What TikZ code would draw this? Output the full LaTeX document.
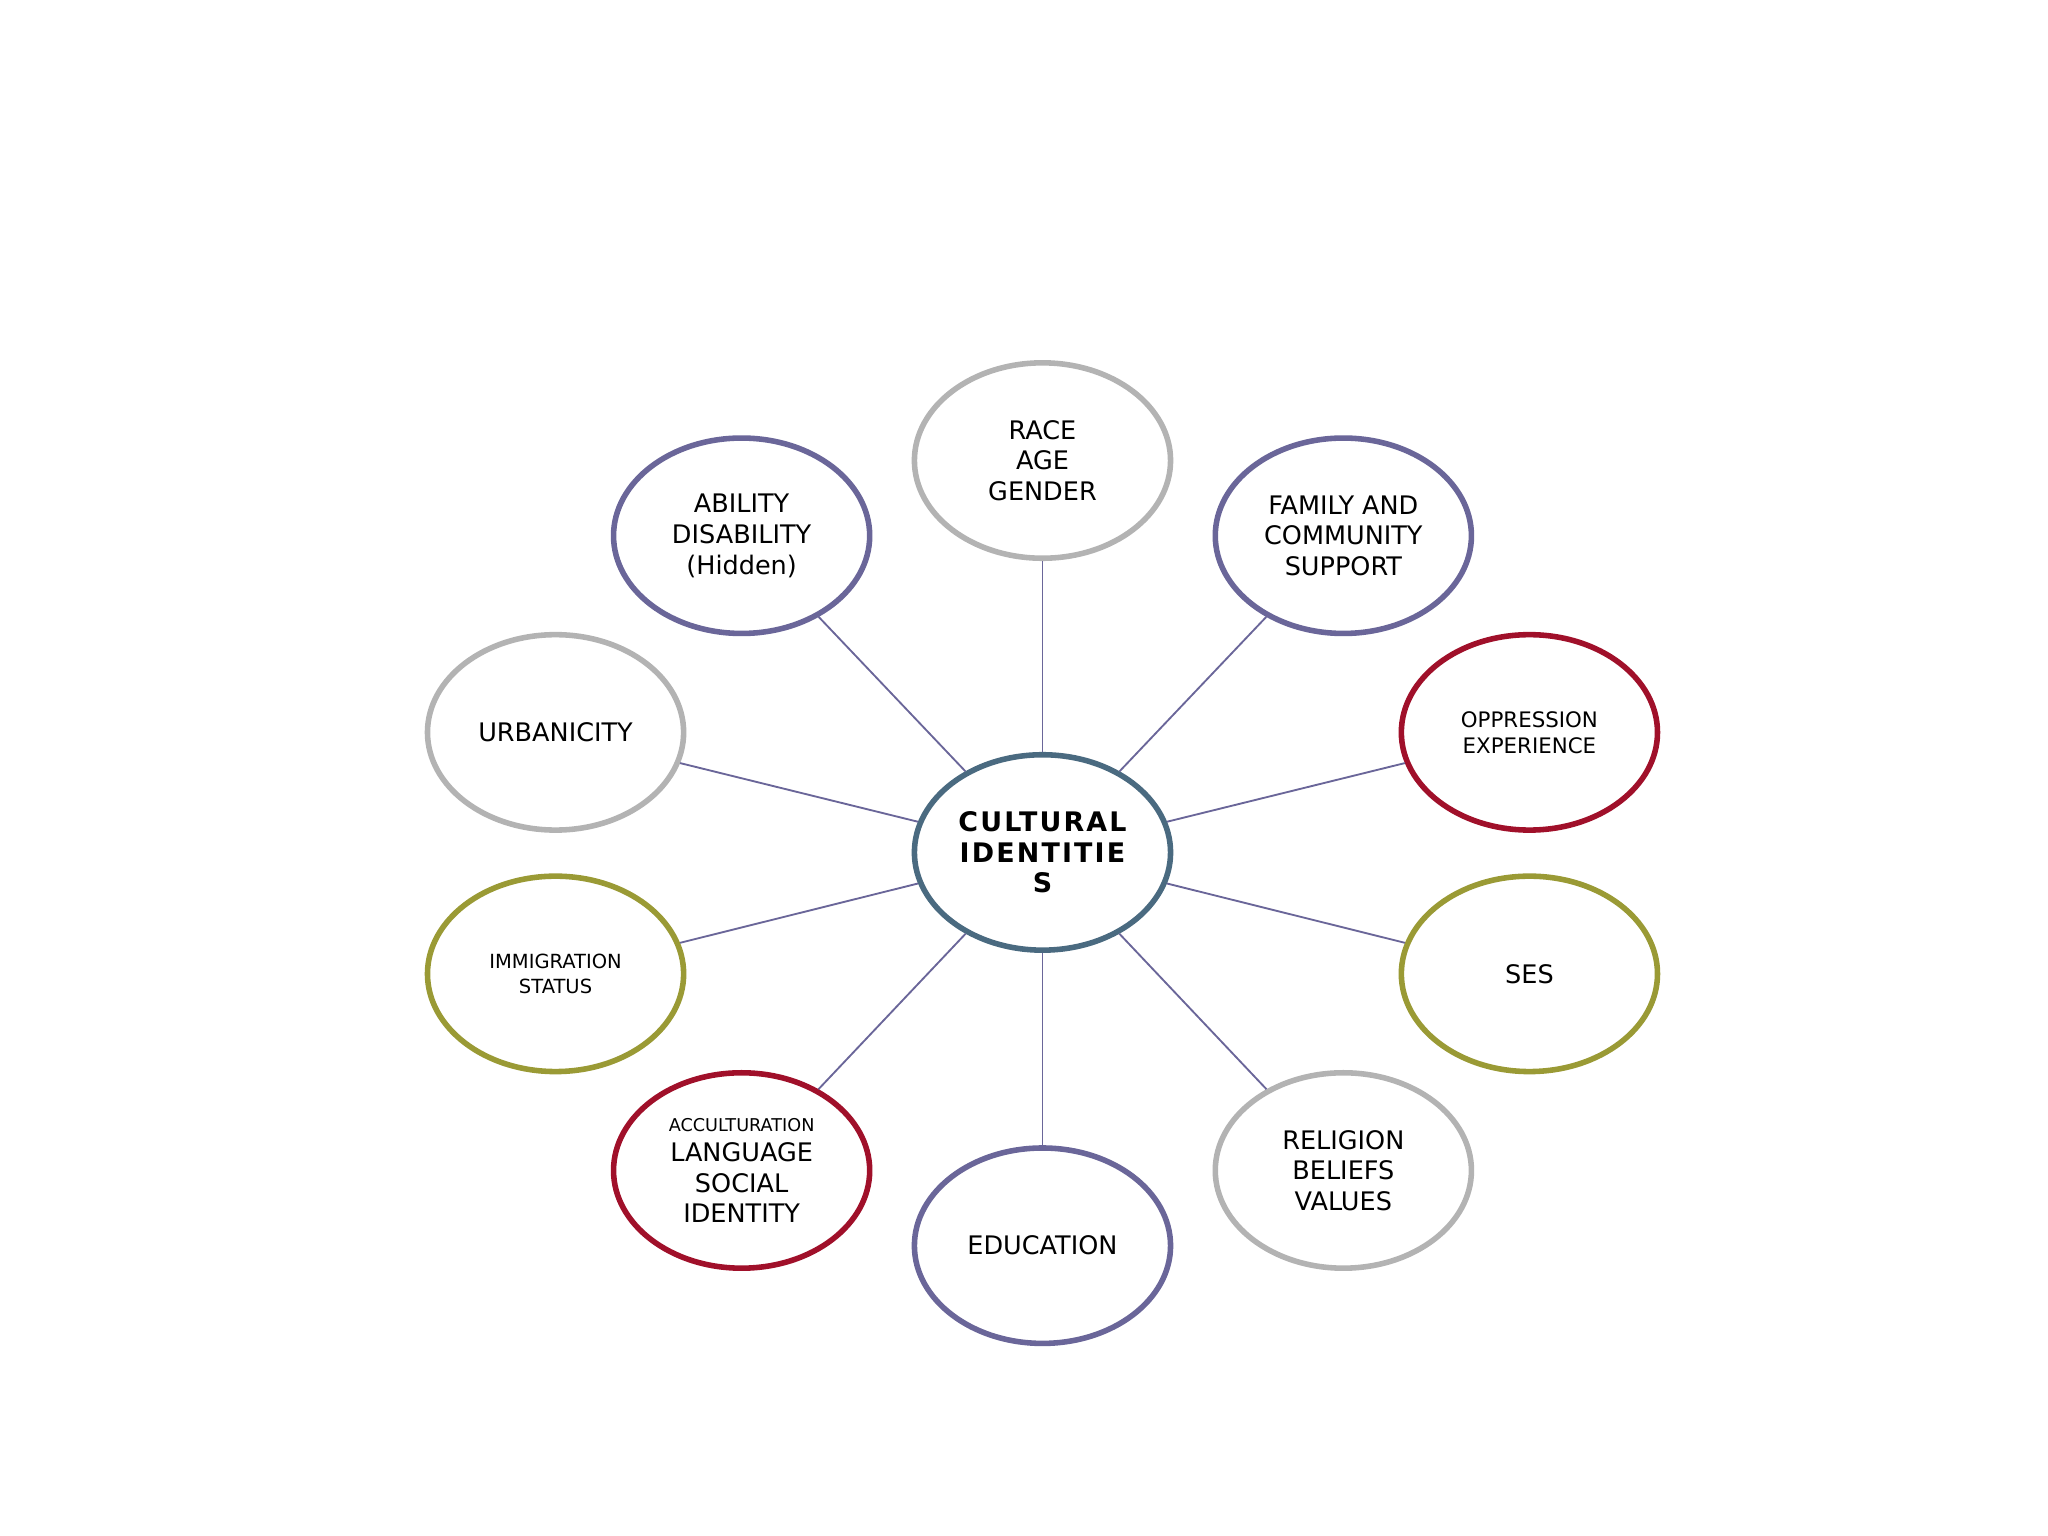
\documentclass[tikz,border=0pt]{standalone}
\usepackage{fontspec}
\setmainfont{DejaVu Sans}
\usetikzlibrary{shapes.geometric}
\definecolor{cpurple}{HTML}{6A6699}
\definecolor{cgray}{HTML}{B3B3B3}
\definecolor{cred}{HTML}{A0102A}
\definecolor{colive}{HTML}{9A9A35}
\definecolor{cteal}{HTML}{4A6A80}
\newfontfamily\blackfont[LetterSpace=8]{DejaVu Sans Bold}
\begin{document}
\begin{tikzpicture}[x=0.01cm,y=-0.01cm,
  bub/.style={ellipse,minimum width=1.94cm,minimum height=1.48cm,line width=1.2pt,fill=white,align=center,inner sep=0pt,font=\fontsize{5.5}{6.6}\selectfont},
  link/.style={cpurple,line width=0.4pt}]
\useasboundingbox (0,0) rectangle (1552,1164);
\node[bub,draw=cteal,font=\fontsize{5.8}{6.6}\blackfont] (c) at (790,646) {CULTURAL\\IDENTITIE\\S};
\node[bub,draw=cgray] (race) at (790,349) {RACE\\AGE\\GENDER};
\node[bub,draw=cpurple] (abil) at (562,406) {ABILITY\\DISABILITY\\(Hidden)};
\node[bub,draw=cpurple] (fam) at (1018,406) {FAMILY AND\\COMMUNITY\\SUPPORT};
\node[bub,draw=cgray] (urb) at (421,555) {URBANICITY};
\node[bub,draw=cred,font=\fontsize{4.6}{5.6}\selectfont] (opp) at (1159,555) {OPPRESSION\\EXPERIENCE};
\node[bub,draw=colive,font=\fontsize{4.2}{5.2}\selectfont] (imm) at (421,738) {IMMIGRATION\\STATUS};
\node[bub,draw=colive] (ses) at (1159,738) {SES};
\node[bub,draw=cred] (acc) at (562,887) {{\fontsize{3.8}{5.6}\selectfont ACCULTURATION}\\LANGUAGE\\SOCIAL\\IDENTITY};
\node[bub,draw=cpurple] (edu) at (790,944) {EDUCATION};
\node[bub,draw=cgray] (rel) at (1018,887) {RELIGION\\BELIEFS\\VALUES};
\begin{scope}[on background layer/.style={}]
\foreach \n in {race,abil,fam,urb,opp,imm,ses,acc,edu,rel}
  \draw[link] (c) -- (\n);
\end{scope}
\end{tikzpicture}
\end{document}
